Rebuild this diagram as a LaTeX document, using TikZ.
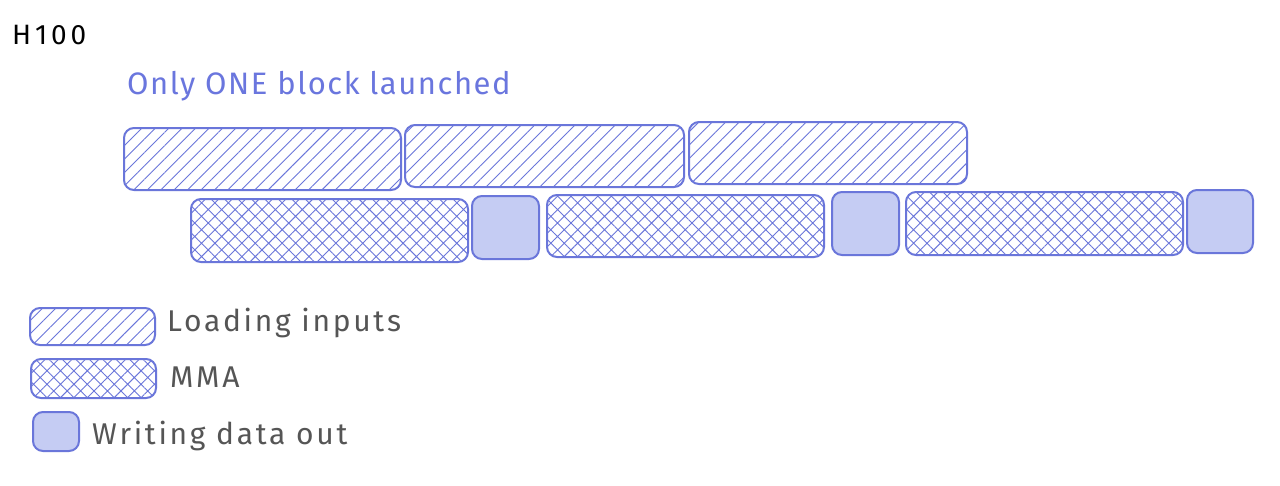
\documentclass[tikz,border=0pt]{standalone}
\usepackage{fontspec}
\setmainfont{Fira Sans}
\usetikzlibrary{patterns.meta}
\definecolor{strk}{RGB}{106,118,218}
\definecolor{wfill}{RGB}{197,204,243}
\definecolor{txtgray}{RGB}{85,85,85}
\definecolor{ttlblue}{RGB}{106,118,222}
\tikzset{
  box/.style={draw=strk, line width=2pt, rounded corners=10pt, inner sep=0pt},
  loadbox/.style={box, pattern={Lines[angle=45,distance=9.5pt,line width=0.9pt]}, pattern color=strk},
  mmabox/.style={box, pattern={Hatch[angle=45,distance=9.5pt,line width=0.9pt]}, pattern color=strk},
  writebox/.style={box, fill=wfill},
  lbl/.style={anchor=west, inner sep=0pt, text=txtgray, font=\fontsize{30}{33}\selectfont\addfontfeature{LetterSpace=9}},
}
\begin{document}
\begin{tikzpicture}[x=1pt,y=-1pt]
\useasboundingbox (0,0) rectangle (1280,485);
\fill[white] (0,0) rectangle (1280,485);
\node[anchor=west, inner sep=0pt, font=\fontsize{28}{31}\selectfont\addfontfeature{LetterSpace=14}] (title) at (12,35) {H100};
\node[anchor=west, inner sep=0pt, text=ttlblue, font=\fontsize{31}{34}\selectfont\addfontfeature{LetterSpace=5}] (sub) at (127,86) {Only ONE block launched};
% loading row
\node[loadbox, minimum width=277, minimum height=62] (l1) at (262.5,159) {};
\node[loadbox, minimum width=279, minimum height=62] (l2) at (544.5,156) {};
\node[loadbox, minimum width=278, minimum height=62] (l3) at (828,153) {};
% mma / write row
\node[mmabox, minimum width=277, minimum height=63] (m1) at (329.5,230.5) {};
\node[writebox, minimum width=67, minimum height=63] (w1) at (505.5,227.5) {};
\node[mmabox, minimum width=277, minimum height=62] (m2) at (685.5,226) {};
\node[writebox, minimum width=67, minimum height=63] (w2) at (865.5,223.5) {};
\node[mmabox, minimum width=277, minimum height=63] (m3) at (1044.5,223.5) {};
\node[writebox, minimum width=66, minimum height=63] (w3) at (1220,221.5) {};
% legend
\node[loadbox, minimum width=125, minimum height=37] (kl) at (92.5,326.5) {};
\node[mmabox, minimum width=125, minimum height=39] (km) at (93.5,378.5) {};
\node[writebox, minimum width=46, minimum height=39] (kw) at (56,431.5) {};
\node[lbl] (tl) at (167,323) {Loading inputs};
\node[lbl] (tm) at (170,377) {MMA};
\node[lbl] (tw) at (92,436) {Writing data out};
\end{tikzpicture}
\end{document}
